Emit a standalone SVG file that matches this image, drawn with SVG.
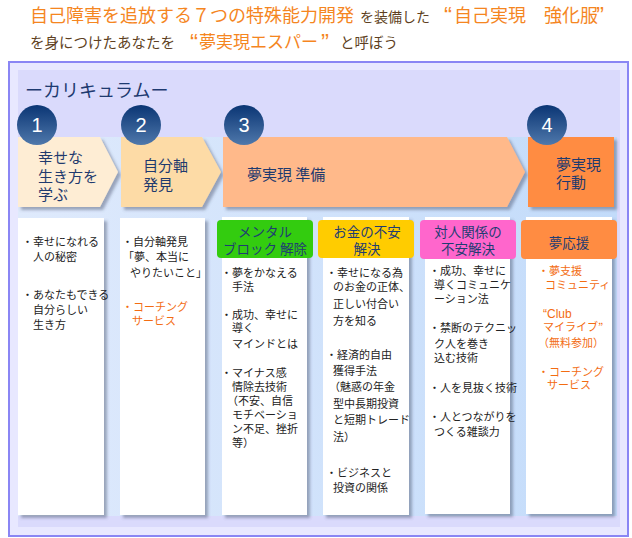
<svg xmlns="http://www.w3.org/2000/svg" width="632" height="538" viewBox="0 0 632 538">
<defs>
<style>
text{font-family:"Noto Sans CJK JP","Noto Sans",sans-serif;}
.t1{font-size:18px;fill:#f5861f;}
.t2{font-size:14px;fill:#5e3f22;}
.q{font-family:"Liberation Sans","Noto Sans CJK JP",sans-serif;font-size:24px;fill:#f5861f;}
.ch{font-size:15px;fill:#1f3a6e;}
.hd{font-size:13.5px;fill:#1f3d72;text-anchor:middle;}
.bd{font-size:11px;fill:#222;}
.or{font-size:11px;fill:#f36c12;}
.num{font-family:"Liberation Sans",sans-serif;font-size:20px;fill:#fff;text-anchor:middle;}
.card{fill:#fff;filter:url(#sh);}
</style>
<filter id="sh" x="-10%" y="-10%" width="130%" height="130%">
<feDropShadow dx="3" dy="3" stdDeviation="1.5" flood-color="#44506a" flood-opacity="0.45"/>
</filter>
<linearGradient id="blue" x1="0" y1="0" x2="1" y2="0">
<stop offset="0" stop-color="#dfeafc"/>
<stop offset="1" stop-color="#c2dbfa"/>
</linearGradient>
<linearGradient id="circ" x1="0" y1="0" x2="0" y2="1">
<stop offset="0" stop-color="#0a3574"/>
<stop offset="1" stop-color="#4f78ab"/>
</linearGradient>
</defs>

<g id="header">
<text class="t1" x="30" y="22">自己障害を追放する７つの特殊能力開発</text>
<text class="t2" x="360" y="22">を装備した</text>
<text class="q" x="452" y="24" text-anchor="end">“</text>
<text class="t1" x="454" y="22">自己実現　強化服</text>
<text class="q" x="596" y="24">”</text>
<text class="t2" x="30" y="48" style="font-size:14.5px">を身につけたあなたを</text>
<text class="q" x="198" y="51" text-anchor="end">“</text>
<text class="t1" x="199" y="48" style="font-size:17px">夢実現エスパー</text>
<text class="q" x="321" y="51">”</text>
<text class="t2" x="340" y="48" style="font-size:14.5px">と呼ぼう</text>
</g>

<g id="frame">
<rect x="9" y="62" width="619" height="474" fill="#e8e8ff" stroke="#8a86f4" stroke-width="2"/>
<rect x="18" y="70" width="602" height="457" fill="#dadafc"/>
<rect x="18" y="137" width="599" height="379" fill="url(#blue)"/>
<text x="25" y="97" style="font-size:18px;fill:#1e3a70">ーカリキュラムー</text>
</g>

<g id="step1">
<polygon points="18,137 100,137 118,172 100,207 18,207" fill="#feedd4" filter="url(#sh)"/>
<text class="ch" x="38" y="163">幸せな</text>
<text class="ch" x="38" y="182">生き方を</text>
<text class="ch" x="38" y="200">学ぶ</text>
<circle cx="37" cy="125" r="20" fill="url(#circ)"/>
<text class="num" x="37" y="132">1</text>
</g>
<g id="step2">
<polygon points="121,137 202,137 221,172 202,207 121,207" fill="#fddba6" filter="url(#sh)"/>
<text class="ch" x="143" y="171">自分軸</text>
<text class="ch" x="143" y="190">発見</text>
<circle cx="141" cy="125" r="20" fill="url(#circ)"/>
<text class="num" x="141" y="132">2</text>
</g>
<g id="step3">
<polygon points="223,137 507,137 525,172 507,207 223,207" fill="#ffb98a" filter="url(#sh)"/>
<text class="ch" x="247" y="180">夢実現 準備</text>
<circle cx="244" cy="125" r="20" fill="url(#circ)"/>
<text class="num" x="244" y="132">3</text>
</g>
<g id="step4">
<rect x="528" y="137" width="86" height="70" fill="#ff8c42" filter="url(#sh)"/>
<text class="ch" x="556" y="170">夢実現</text>
<text class="ch" x="556" y="188">行動</text>
<circle cx="547" cy="125" r="20" fill="url(#circ)"/>
<text class="num" x="547" y="132">4</text>
</g>

<g id="card1">
<rect class="card" x="18" y="218" width="86" height="297"/>
<text class="bd" x="22" y="246">・幸せになれる</text>
<text class="bd" x="33" y="261">人の秘密</text>
<text class="bd" x="22" y="299">・あなたもできる</text>
<text class="bd" x="33" y="314">自分らしい</text>
<text class="bd" x="33" y="329">生き方</text>
</g>

<g id="card2">
<rect class="card" x="120" y="218" width="85" height="297"/>
<text class="bd" x="122" y="246">・自分軸発見</text>
<text class="bd" x="123" y="261">「夢、本当に</text>
<text class="bd" x="130" y="277">やりたいこと」</text>
<text class="or" x="122" y="311">・コーチング</text>
<text class="or" x="132" y="325">サービス</text>
</g>

<g id="card3">
<rect class="card" x="222" y="217" width="85" height="298"/>
<rect x="217" y="220" width="96" height="38" rx="4" fill="#33cc0f"/>
<text class="hd" x="265" y="237">メンタル</text>
<text class="hd" x="265" y="254">ブロック 解除</text>
<text class="bd" x="221" y="277">・夢をかなえる</text>
<text class="bd" x="232" y="291">手法</text>
<text class="bd" x="221" y="319">・成功、幸せに</text>
<text class="bd" x="232" y="332">導く</text>
<text class="bd" x="232" y="348">マインドとは</text>
<text class="bd" x="221" y="377">・マイナス感</text>
<text class="bd" x="232" y="391">情除去技術</text>
<text class="bd" x="227" y="405">（不安、自信</text>
<text class="bd" x="232" y="419">モチベーショ</text>
<text class="bd" x="232" y="433">ン不足、挫折</text>
<text class="bd" x="232" y="447">等）</text>
</g>

<g id="card4">
<rect class="card" x="323" y="217" width="86" height="298"/>
<rect x="318" y="220" width="96" height="38" rx="4" fill="#ffcc00"/>
<text class="hd" x="367" y="237">お金の不安</text>
<text class="hd" x="367" y="254">解決</text>
<text class="bd" x="326" y="277">・幸せになる為</text>
<text class="bd" x="333" y="291">のお金の正体、</text>
<text class="bd" x="333" y="308">正しい付合い</text>
<text class="bd" x="333" y="325">方を知る</text>
<text class="bd" x="326" y="359">・経済的自由</text>
<text class="bd" x="333" y="375">獲得手法</text>
<text class="bd" x="329" y="391">（魅惑の年金</text>
<text class="bd" x="333" y="408">型中長期投資</text>
<text class="bd" x="333" y="424">と短期トレード</text>
<text class="bd" x="333" y="441">法）</text>
<text class="bd" x="326" y="477">・ビジネスと</text>
<text class="bd" x="333" y="492">投資の関係</text>
</g>

<g id="card5">
<rect class="card" x="425" y="217" width="85" height="297"/>
<rect x="420" y="220" width="96" height="39" rx="4" fill="#ff66cc"/>
<text class="hd" x="468" y="237">対人関係の</text>
<text class="hd" x="468" y="254">不安解決</text>
<text class="bd" x="429" y="275">・成功、幸せに</text>
<text class="bd" x="434" y="289">導くコミュニケ</text>
<text class="bd" x="434" y="303">ーション法</text>
<text class="bd" x="429" y="332">・禁断のテクニッ</text>
<text class="bd" x="434" y="348">ク人を巻き</text>
<text class="bd" x="434" y="362">込む技術</text>
<text class="bd" x="429" y="392">・人を見抜く技術</text>
<text class="bd" x="429" y="421">・人とつながりを</text>
<text class="bd" x="434" y="436">つくる雑談力</text>
</g>

<g id="card6">
<rect class="card" x="526" y="217" width="86" height="297"/>
<rect x="521" y="220" width="96" height="39" rx="4" fill="#ff8c42"/>
<text class="hd" x="569" y="248">夢応援</text>
<text class="or" x="538" y="275">・夢支援</text>
<text class="or" x="545" y="289">コミュニティ</text>
<text class="or" x="543" y="318" style="font-family:'Liberation Sans','Noto Sans CJK JP',sans-serif;font-size:12px">“Club</text>
<text class="or" x="543" y="331">マイライブ”</text>
<text class="or" x="538" y="347">（無料参加）</text>
<text class="or" x="538" y="376">・コーチング</text>
<text class="or" x="547" y="389">サービス</text>
</g>
</svg>
